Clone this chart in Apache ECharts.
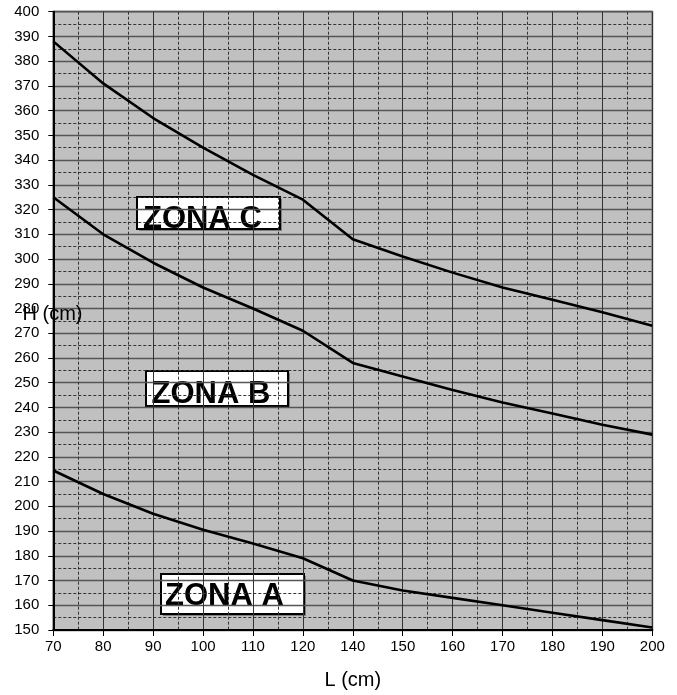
<!DOCTYPE html>
<html>
<head>
<meta charset="utf-8">
<script src="https://cdn.jsdelivr.net/npm/echarts@6/dist/echarts.min.js"></script>
<style>
html,body{margin:0;padding:0;background:#fff;}
#chart{width:677px;height:695px;}
</style>
</head>
<body>
<div id="chart"></div>
<script>
// Categories (L in cm) — note: no 130 in the original
const categories = ['70','80','90','100','110','120','140','150','160','170','180','190','200'];
// H (cm) limits for each zone
const zonaC = [388, 371, 357, 345, 334, 324, 308, 301, 294.5, 288.5, 283.5, 278.5, 273];
const zonaB = [325, 310, 298.5, 288.5, 280, 271, 258, 252.5, 247, 242, 237.5, 233, 229];
const zonaA = [214.5, 205, 197, 190.5, 185, 179, 170, 166, 163, 160, 157, 154, 151];
const zoneLabels = ['ZONA C', 'ZONA B', 'ZONA A'];
const xTitle = 'L (cm)';
const yTitle = 'H (cm)';

const FONT = 'Arial, "Liberation Sans", sans-serif';
const chart = echarts.init(document.getElementById('chart'), null, {renderer: 'canvas'});

function zoneBox(label, x, y, w, h, tx, ty) {
  return {
    type: 'group',
    z: 100,
    children: [
      {type: 'rect', shape: {x: x, y: y, width: w, height: h},
       style: {fill: '#fff', shadowColor: '#7f7f7f', shadowOffsetX: 2, shadowOffsetY: 2, shadowBlur: 0}},
      {type: 'text', x: tx, y: ty,
       style: {text: label, fill: '#000', font: 'bold 31px ' + FONT, align: 'left', verticalAlign: 'middle'}},
      {type: 'rect', shape: {x: x, y: y, width: w, height: h},
       style: {fill: null, stroke: '#000', lineWidth: 2}}
    ]
  };
}

const lineSeries = (data) => ({
  type: 'line', data: data, xAxisIndex: 0, yAxisIndex: 0,
  symbol: 'none', smooth: false,
  lineStyle: {color: '#000', width: 2.6},
  z: 10
});

chart.setOption({
  backgroundColor: '#fff',
  animation: false,
  grid: {left: 53.3, right: 24.7, top: 11.7, bottom: 61.5, show: true,
         backgroundColor: '#c0c0c0', borderColor: '#808080', borderWidth: 2},
  xAxis: [{
    type: 'category', data: categories, boundaryGap: false, position: 'bottom',
    name: xTitle, nameLocation: 'middle', nameGap: 40,
    nameTextStyle: {fontFamily: FONT, fontSize: 20, color: '#000'},
    axisLine: {show: true, lineStyle: {color: '#000', width: 2}},
    axisTick: {show: true, length: 6, lineStyle: {color: '#000', width: 1}},
    axisLabel: {fontFamily: FONT, fontSize: 15, color: '#000', margin: 9},
    splitLine: {show: true, lineStyle: {color: '#333', width: 1}}
  }, {
    type: 'value', min: 0, max: 12, interval: 1, position: 'top',
    axisLine: {show: false}, axisTick: {show: false}, axisLabel: {show: false},
    splitLine: {show: false},
    minorTick: {show: true, splitNumber: 2, length: 0},
    minorSplitLine: {show: true, lineStyle: {color: '#333', width: 1, type: [3, 2]}}
  }],
  yAxis: [{
    type: 'value', min: 150, max: 400, interval: 10,
    axisLine: {show: true, lineStyle: {color: '#000', width: 2}},
    axisTick: {show: true, length: 5, lineStyle: {color: '#000', width: 1}},
    axisLabel: {fontFamily: FONT, fontSize: 15, color: '#000', margin: 14},
    splitLine: {show: true, lineStyle: {color: '#555', width: 1.3}},
    minorTick: {show: true, splitNumber: 2, length: 0},
    minorSplitLine: {show: true, lineStyle: {color: '#333', width: 1, type: [3, 2]}}
  }],
  series: [lineSeries(zonaC), lineSeries(zonaB), lineSeries(zonaA)],
  graphic: [
    zoneBox(zoneLabels[0], 137, 197, 143, 32, 143, 219.5),
    zoneBox(zoneLabels[1], 146, 371, 142, 35, 151.5, 394.5),
    zoneBox(zoneLabels[2], 161, 574, 143, 40, 165, 596.5),
    {type: 'text', x: 52.5, y: 314, z: 100,
     style: {text: yTitle, fill: '#000', font: '20px ' + FONT, align: 'center', verticalAlign: 'middle'}}
  ]
});
</script>
</body>
</html>
